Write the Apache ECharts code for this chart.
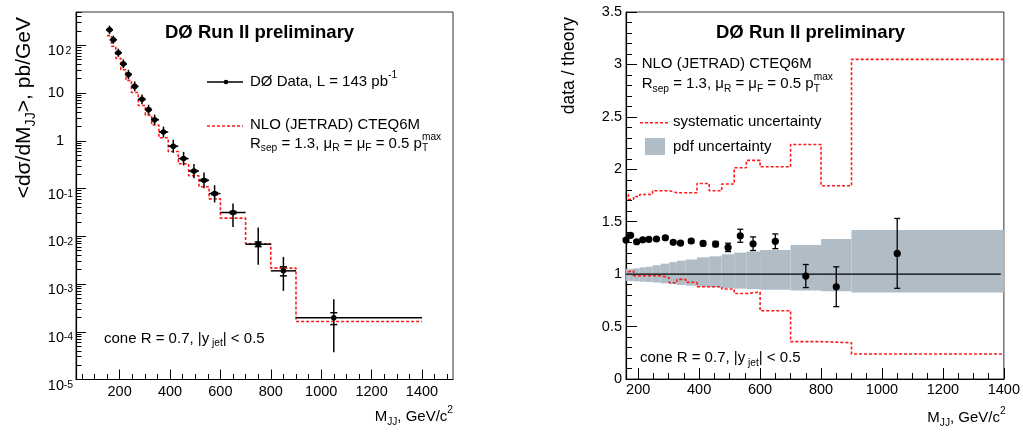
<!DOCTYPE html>
<html><head><meta charset="utf-8">
<script src="https://cdn.jsdelivr.net/npm/echarts@6/dist/echarts.min.js"></script>
<style>html,body{margin:0;padding:0;background:#fff}#c{width:1023px;height:437px}</style>
</head><body><div id="c"></div>
<script>
// ---------------- data ----------------
const binEdges = [150,168,185,205,225,247,274,302,327,356,393,433,474,515,555,600,700,800,900,1400];
const massPoints = [160,175,195,215,235,260,289,315,339,374,413,454,495,535,577,650,750,850,1050];
const crossSection = [212,131,70,41,24.6,13.8,7.4,4.5,2.77,1.53,0.77,0.425,0.233,0.149,0.0785,0.0315,0.00684,0.00189,0.000196];
const totErrUp = [0.22,0.22,0.22,0.24,0.25,0.27,0.27,0.27,0.28,0.30,0.37,0.38,0.40,0.45,0.50,0.54,1.24,0.96,1.46];
const totErrDn = [0.18,0.18,0.18,0.19,0.20,0.21,0.21,0.21,0.22,0.23,0.27,0.28,0.29,0.32,0.35,0.50,0.63,0.62,0.81];
const nloTheory = [160,95.6,53.5,30.9,18.5,10.3,5.49,3.45,2.14,1.16,0.596,0.330,0.186,0.109,0.0609,0.0240,0.00697,0.00215,0.000164];
const ratio = [1.325,1.37,1.309,1.328,1.332,1.335,1.347,1.303,1.296,1.316,1.293,1.287,1.255,1.366,1.29,1.313,0.982,0.88,1.198];
const ratioStatErr = [0.010,0.010,0.010,0.012,0.012,0.013,0.014,0.015,0.016,0.017,0.020,0.025,0.040,0.062,0.065,0.070,0.110,0.190,0.333];
const sysUpper = [1.76,1.713,1.74,1.76,1.76,1.795,1.795,1.776,1.776,1.776,1.865,1.795,1.859,2.014,2.085,2.024,2.237,1.843,3.048];
const sysLower = [1.023,1.032,0.985,0.985,0.985,0.985,0.966,0.918,0.95,0.922,0.88,0.88,0.858,0.815,0.83,0.651,0.356,0.346,0.238];
const pdfUpper = [1.05,1.05,1.055,1.065,1.07,1.085,1.10,1.115,1.128,1.14,1.16,1.17,1.19,1.205,1.215,1.23,1.277,1.335,1.42];
const pdfLower = [0.935,0.935,0.932,0.928,0.925,0.92,0.912,0.905,0.898,0.89,0.88,0.875,0.868,0.862,0.857,0.852,0.845,0.838,0.825];
const unityLine = [[160,1],[1390,1]];
const xMajorTicks = [200,400,600,800,1000,1200,1400];
const xMinorStep = 50;
const ratioMinorStep = 0.1;

// ---------------- helpers ----------------
const FONT = '"Liberation Sans", Arial, Helvetica, sans-serif';
const mctx = document.createElement('canvas').getContext('2d');
function tw(t, size, bold){ mctx.font = (bold?'bold ':'') + size + 'px ' + FONT; return mctx.measureText(t).width; }
function mathText(x, y, parts, size, opt){
  opt = opt || {};
  const items = []; let cx = 0;
  parts.forEach(p => {
    if (typeof p === 'string') { items.push({t:p, s:size, dy:0, x:cx, b:opt.bold}); cx += tw(p,size,opt.bold); }
    else {
      const ss = size*0.68; let w = 0;
      if (p.sub !== undefined) { items.push({t:p.sub, s:ss, dy:size*0.33, x:cx}); w = Math.max(w, tw(p.sub,ss)); }
      if (p.sup !== undefined) { items.push({t:p.sup, s:ss, dy:-size*0.45, x:cx}); w = Math.max(w, tw(p.sup,ss)); }
      cx += w;
    }
  });
  const x0 = opt.align === 'right' ? -cx : 0;
  return items.map(it => ({type:'text', x:x+x0+it.x, y:y+it.dy, silent:true,
    style:{text:it.t, font:(it.b?'bold ':'')+it.s+'px '+FONT, fill:'#000', align:'left', verticalAlign:'middle', textAlign:'left', textVerticalAlign:'middle'}}));
}
function stepData(vals){
  const d = vals.map((v,i) => [binEdges[i], v]);
  d.push([binEdges[binEdges.length-1], vals[vals.length-1]]);
  return d;
}
function minorTicks(a, b, step){ const r=[]; for(let v=a; v<=b+1e-9; v+=step) r.push(+v.toFixed(4)); return r; }
const yLogMinor = [];
for (let n=-5; n<=2; n++) for (let k=2; k<=9; k++) { const v = Math.log10(k) + n; if (v <= Math.log10(500)) yLogMinor.push(v); }

// ---------------- series data ----------------
const leftData = massPoints.map((x,i) => {
  const y = crossSection[i], sr = ratioStatErr[i]/ratio[i];
  return [x, y, binEdges[i], binEdges[i+1], y*(1-totErrDn[i]), y*(1+totErrUp[i]), y*(1-sr), y*(1+sr)];
});
const rightData = massPoints.map((x,i) => [x, ratio[i], ratio[i]-ratioStatErr[i], ratio[i]+ratioStatErr[i]]);
const pdfData = pdfUpper.map((u,i) => [binEdges[i], binEdges[i+1], pdfLower[i], u]);

const labelStyle = {color:'#000', fontFamily:FONT, fontSize:14.5};
const plainFmt = v => String(v);
function mainX(grid, min, max, tickLen, margin){
  return {type:'value', gridIndex:grid, min:min, max:max, position:'bottom',
    axisLine:{show:true, onZero:false, lineStyle:{color:'#000', width:1.2}}, splitLine:{show:false},
    axisTick:{show:true, inside:true, length:tickLen, customValues:xMajorTicks, lineStyle:{color:'#000'}},
    axisLabel:Object.assign({}, labelStyle, {customValues:xMajorTicks, margin:margin, formatter:plainFmt})};
}
function tickOnlyAxis(grid, min, max, pos, len, vals){
  return {type:'value', gridIndex:grid, min:min, max:max, position:pos,
    axisLine:{show:false, onZero:false}, splitLine:{show:false}, axisLabel:{show:false},
    axisTick:{show:true, inside:true, length:len, customValues:vals, lineStyle:{color:'#000'}}};
}
const RED = '#ff1a1a';
const chart = echarts.init(document.getElementById('c'), null, {renderer:'canvas'});
chart.setOption({
  animation:false,
  backgroundColor:'#fff',
  grid:[
    {left:76, top:12, width:377, height:367.5, show:true, borderColor:'#333', borderWidth:1, backgroundColor:'transparent'},
    {left:626, top:12, width:379.7, height:367, show:true, borderColor:'#333', borderWidth:1, backgroundColor:'transparent'}
  ],
  xAxis:[
    mainX(0, 27, 1523, 10, 5),
    tickOnlyAxis(0, 27, 1523, 'bottom', 5.5, minorTicks(50, 1500, xMinorStep)),
    mainX(1, 160, 1400, 11, 3),
    tickOnlyAxis(1, 160, 1400, 'bottom', 6, minorTicks(200, 1400, xMinorStep))
  ],
  yAxis:[
    {type:'log', logBase:10, gridIndex:0, min:1e-5, max:500, position:'left',
      axisLine:{show:true, onZero:false, lineStyle:{color:'#000', width:1.2}}, splitLine:{show:false},
      axisTick:{show:true, inside:true, length:10, lineStyle:{color:'#000'}},
      axisLabel:{color:'#000', fontFamily:FONT, margin:3, showMaxLabel:false,
        formatter:function(v){ const e = Math.round(Math.log10(v));
          if (e === 0) return '{p|1}{pad| }';
          if (e === 1) return '{p|10}{pad| }';
          return '{b|10}{sup|' + e + '}'; },
        rich:{
          p:{fontSize:14.5, lineHeight:14, fontFamily:FONT},
          pad:{width:9, fontSize:10},
          b:{fontSize:14.5, lineHeight:14, padding:[12,0,0,0], fontFamily:FONT},
          sup:{fontSize:10.5, lineHeight:10, padding:[7,0,0,0], verticalAlign:'top', width:9, align:'left', fontFamily:FONT}
        }}},
    tickOnlyAxis(0, -5, Math.log10(500), 'left', 5.5, yLogMinor),
    {type:'value', gridIndex:1, min:0, max:3.5, interval:0.5, position:'left',
      axisLine:{show:true, onZero:false, lineStyle:{color:'#000', width:1.2}}, splitLine:{show:false},
      axisTick:{show:true, inside:true, length:11, lineStyle:{color:'#000'}},
      axisLabel:Object.assign({}, labelStyle, {margin:4})},
    tickOnlyAxis(1, 0, 3.5, 'left', 6, minorTicks(0, 3.5, ratioMinorStep))
  ],
  series:[
    {type:'line', xAxisIndex:0, yAxisIndex:0, step:'end', data:stepData(nloTheory), showSymbol:false, symbol:'none',
      lineStyle:{color:RED, width:1.6, type:[3,2]}, z:3, silent:true},
    {type:'custom', xAxisIndex:0, yAxisIndex:0, data:leftData, encode:{x:0, y:1}, z:4, silent:true,
      renderItem:function(params, api){
        const x=api.value(0), y=api.value(1);
        const p=api.coord([x,y]), pl=api.coord([api.value(2),y]), ph=api.coord([api.value(3),y]);
        const a=api.coord([x,api.value(4)]), b=api.coord([x,api.value(5)]);
        const s1=api.coord([x,api.value(6)]), s2=api.coord([x,api.value(7)]);
        const st={stroke:'#000', lineWidth:1.5};
        return {type:'group', children:[
          {type:'line', shape:{x1:pl[0],y1:p[1],x2:ph[0],y2:p[1]}, style:st},
          {type:'line', shape:{x1:p[0],y1:a[1],x2:p[0],y2:b[1]}, style:st},
          {type:'line', shape:{x1:p[0]-3.5,y1:s1[1],x2:p[0]+3.5,y2:s1[1]}, style:st},
          {type:'line', shape:{x1:p[0]-3.5,y1:s2[1],x2:p[0]+3.5,y2:s2[1]}, style:st},
          {type:'circle', shape:{cx:p[0],cy:p[1],r:2.8}, style:{fill:'#000'}}
        ]};
      }},
    {type:'custom', xAxisIndex:2, yAxisIndex:2, data:pdfData, encode:{x:[0,1], y:[2,3]}, z:1, silent:true,
      renderItem:function(params, api){
        const cs=params.coordSys;
        const p1=api.coord([api.value(0), api.value(3)]), p2=api.coord([api.value(1), api.value(2)]);
        const x1=Math.max(p1[0], cs.x), x2=Math.min(p2[0], cs.x+cs.width);
        return {type:'rect', shape:{x:x1, y:p1[1], width:x2-x1, height:p2[1]-p1[1]}, style:{fill:'#b0bdc7'}};
      }},
    {type:'line', xAxisIndex:2, yAxisIndex:2, data:unityLine, showSymbol:false, symbol:'none',
      lineStyle:{color:'#000', width:1.2}, z:2, silent:true},
    {type:'line', xAxisIndex:2, yAxisIndex:2, step:'end', data:stepData(sysUpper), showSymbol:false, symbol:'none',
      lineStyle:{color:RED, width:1.6, type:[3,2]}, z:3, silent:true},
    {type:'line', xAxisIndex:2, yAxisIndex:2, step:'end', data:stepData(sysLower), showSymbol:false, symbol:'none',
      lineStyle:{color:RED, width:1.6, type:[3,2]}, z:3, silent:true},
    {type:'custom', xAxisIndex:2, yAxisIndex:2, data:rightData, encode:{x:0, y:1}, z:4, silent:true,
      renderItem:function(params, api){
        const x=api.value(0);
        const p=api.coord([x,api.value(1)]), a=api.coord([x,api.value(2)]), b=api.coord([x,api.value(3)]);
        const st={stroke:'#000', lineWidth:1.3};
        return {type:'group', children:[
          {type:'line', shape:{x1:p[0],y1:a[1],x2:p[0],y2:b[1]}, style:st},
          {type:'line', shape:{x1:p[0]-3,y1:a[1],x2:p[0]+3,y2:a[1]}, style:st},
          {type:'line', shape:{x1:p[0]-3,y1:b[1],x2:p[0]+3,y2:b[1]}, style:st},
          {type:'circle', shape:{cx:p[0],cy:p[1],r:3.6}, style:{fill:'#000'}}
        ]};
      }}
  ],
  graphic:[].concat(
    // left pad
    mathText(165, 33, ['DØ Run II preliminary'], 18.5, {bold:true}),
    [{type:'line', shape:{x1:207,y1:82,x2:243,y2:82}, style:{stroke:'#000', lineWidth:1.5}, silent:true},
     {type:'circle', shape:{cx:226,cy:82,r:2.3}, style:{fill:'#000'}, silent:true},
     {type:'line', shape:{x1:207,y1:126,x2:243,y2:126}, style:{stroke:RED, lineWidth:1.6, lineDash:[3,2]}, silent:true}],
    mathText(250, 82, ['DØ Data, L = 143 pb', {sup:'-1'}], 15),
    mathText(250, 125, ['NLO (JETRAD) CTEQ6M'], 15),
    mathText(250, 143.5, ['R', {sub:'sep'}, ' = 1.3, μ', {sub:'R'}, ' = μ', {sub:'F'}, ' = 0.5 p', {sub:'T', sup:'max'}], 15),
    mathText(104, 338.5, ['cone R = 0.7, |y', {sub:' jet'}, '| < 0.5'], 15),
    mathText(453, 417, ['M', {sub:'JJ'}, ', GeV/c', {sup:'2'}], 15, {align:'right'}),
    [{type:'group', x:24, y:17, rotation:Math.PI/2, children:mathText(0, 0, ['<dσ/dM', {sub:'JJ'}, '>, pb/GeV'], 21, {align:'right'})}],
    // right pad
    mathText(716, 33, ['DØ Run II preliminary'], 18.5, {bold:true}),
    mathText(641.7, 63.5, ['NLO (JETRAD) CTEQ6M'], 15),
    mathText(641.7, 84, ['R', {sub:'sep'}, ' = 1.3, μ', {sub:'R'}, ' = μ', {sub:'F'}, ' = 0.5 p', {sub:'T', sup:'max'}], 15),
    [{type:'line', shape:{x1:640,y1:122.7,x2:670,y2:122.7}, style:{stroke:RED, lineWidth:1.6, lineDash:[3,2]}, silent:true},
     {type:'rect', shape:{x:645,y:138,width:20,height:17}, style:{fill:'#b0bdc7'}, silent:true}],
    mathText(673, 122, ['systematic uncertainty'], 15),
    mathText(673, 147, ['pdf uncertainty'], 15),
    mathText(640, 358, ['cone R = 0.7, |y', {sub:' jet'}, '| < 0.5'], 15),
    mathText(1005.7, 418, ['M', {sub:'JJ'}, ', GeV/c', {sup:'2'}], 15, {align:'right'}),
    [{type:'group', x:569, y:17, rotation:Math.PI/2, children:mathText(0, 0, ['data / theory'], 17.5, {align:'right'})}]
  )
});
</script>
</body></html>
